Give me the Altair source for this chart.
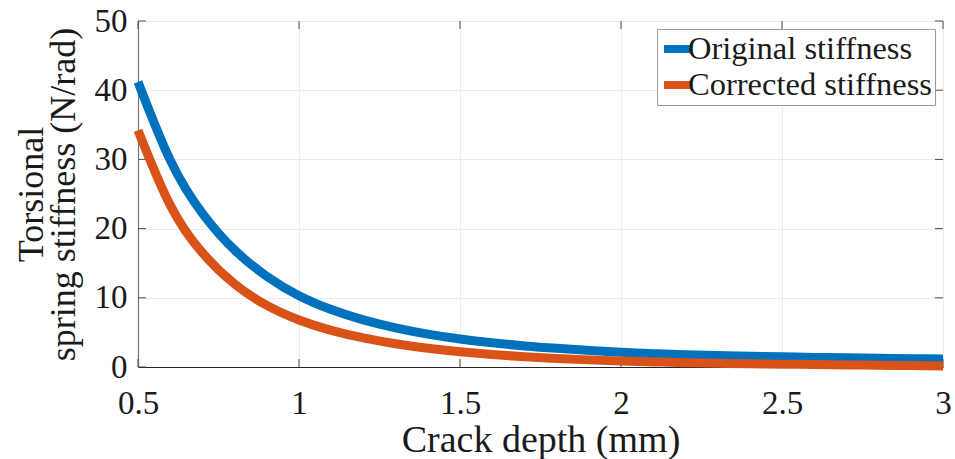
import altair as alt
import pandas as pd

# Crack depth (mm) sampled every 0.1 mm
depth = [0.5, 0.6, 0.7, 0.8, 0.9, 1.0, 1.1, 1.2, 1.3, 1.4, 1.5, 1.6, 1.7,
         1.8, 1.9, 2.0, 2.1, 2.2, 2.3, 2.4, 2.5, 2.6, 2.7, 2.8, 2.9, 3.0]

# Torsional spring stiffness (N/rad)
original = [41.2, 29.9, 22.2, 16.9, 13.1, 10.3, 8.3, 6.8, 5.65, 4.75, 4.05, 3.5, 3.05,
            2.7, 2.4, 2.12, 1.93, 1.78, 1.66, 1.56, 1.47, 1.39, 1.32, 1.26, 1.2, 1.15]
corrected = [34.2, 23.4, 16.5, 12.0, 8.9, 6.8, 5.3, 4.2, 3.35, 2.7, 2.2, 1.8, 1.48,
             1.23, 1.03, 0.87, 0.74, 0.63, 0.54, 0.47, 0.41, 0.35, 0.3, 0.25, 0.2, 0.16]

series_names = ["Original stiffness", "Corrected stiffness"]
series_colors = ["#0072BD", "#D95319"]

x_ticks = [0.5, 1, 1.5, 2, 2.5, 3]
y_ticks = [0, 10, 20, 30, 40, 50]

rows = []
for name, values in zip(series_names, [original, corrected]):
    for d, v in zip(depth, values):
        rows.append({"depth": d, "stiffness": v, "series": name})
df = pd.DataFrame(rows)
x_tick_df = pd.DataFrame({"depth": x_ticks})
y_tick_df = pd.DataFrame({"stiffness": y_ticks})

W, H = 805, 346
TICK_LEN = 8
FONT = "Liberation Serif"
INK = "#1a1a1a"

x_scale = alt.Scale(domain=[0.5, 3], nice=False, zero=False)
y_scale = alt.Scale(domain=[0, 50], nice=False)

x_enc = alt.X(
    "depth:Q", scale=x_scale,
    axis=alt.Axis(
        values=x_ticks, format="~g", title="Crack depth (mm)",
        titleFontSize=38, titleBaseline="alphabetic", titleY=84,
        labelPadding=20, labelFlush=False,
    ),
)
y_enc = alt.Y(
    "stiffness:Q", scale=y_scale,
    axis=alt.Axis(
        values=y_ticks, title=["Torsional", "spring stiffness (N/rad)"],
        titleFontSize=36, titleBaseline="alphabetic", titleX=-96, titleY=173,
        titleLineHeight=32, titleAngle=270, titleAlign="center",
        labelPadding=11, labelFlush=False, domainColor="#777777",
    ),
)
color_enc = alt.Color(
    "series:N",
    scale=alt.Scale(domain=series_names, range=series_colors),
    legend=alt.Legend(
        title=None, orient="none", legendX=519, legendY=8,
        direction="vertical", symbolType="stroke", symbolStrokeWidth=8,
        symbolSize=676, labelFontSize=32.5, labelFont=FONT, labelColor=INK,
        labelOffset={"expr": "-6"}, rowPadding=2, padding=3,
        strokeColor="#9a9a9a", fillColor="white", labelLimit=400,
    ),
)

base = alt.Chart(df).mark_line(strokeWidth=9, clip=False, interpolate="natural")

line_original = base.encode(x=x_enc, y=y_enc, color=color_enc).transform_filter(
    alt.datum.series == series_names[0]
)
line_corrected = base.encode(x=x_enc, y=y_enc, color=color_enc).transform_filter(
    alt.datum.series == series_names[1]
)

# Inward tick marks on all four sides of the box
tick_style = dict(color="#4d4d4d", strokeWidth=1)
ticks_bottom = alt.Chart(x_tick_df).mark_rule(**tick_style).encode(
    x=alt.X("depth:Q", scale=x_scale), y=alt.value(H), y2=alt.value(H - TICK_LEN)
)
ticks_top = alt.Chart(x_tick_df).mark_rule(**tick_style).encode(
    x=alt.X("depth:Q", scale=x_scale), y=alt.value(0), y2=alt.value(TICK_LEN)
)
ticks_left = alt.Chart(y_tick_df).mark_rule(**tick_style).encode(
    y=alt.Y("stiffness:Q", scale=y_scale), x=alt.value(0), x2=alt.value(TICK_LEN)
)
ticks_right = alt.Chart(y_tick_df).mark_rule(**tick_style).encode(
    y=alt.Y("stiffness:Q", scale=y_scale), x=alt.value(W), x2=alt.value(W - TICK_LEN)
)

chart = (
    alt.layer(ticks_bottom, ticks_top, ticks_left, ticks_right,
              line_original, line_corrected)
    .properties(
        width=W, height=H,
        autosize=alt.AutoSizeParams(type="none"),
        padding={"left": 138, "top": 21, "right": 12, "bottom": 92},
        background="white",
    )
    .configure_view(stroke="#9a9a9a", strokeWidth=1)
    .configure_axis(
        labelFont=FONT, titleFont=FONT, labelFontSize=33, labelColor=INK,
        titleColor=INK, titleFontWeight="normal", tickSize=0,
        domainColor="#262626", domainWidth=1.2,
        gridColor="#ebebeb", gridWidth=1,
    )
)

chart.save("out.html", embed_options={"renderer": "svg", "actions": False})
